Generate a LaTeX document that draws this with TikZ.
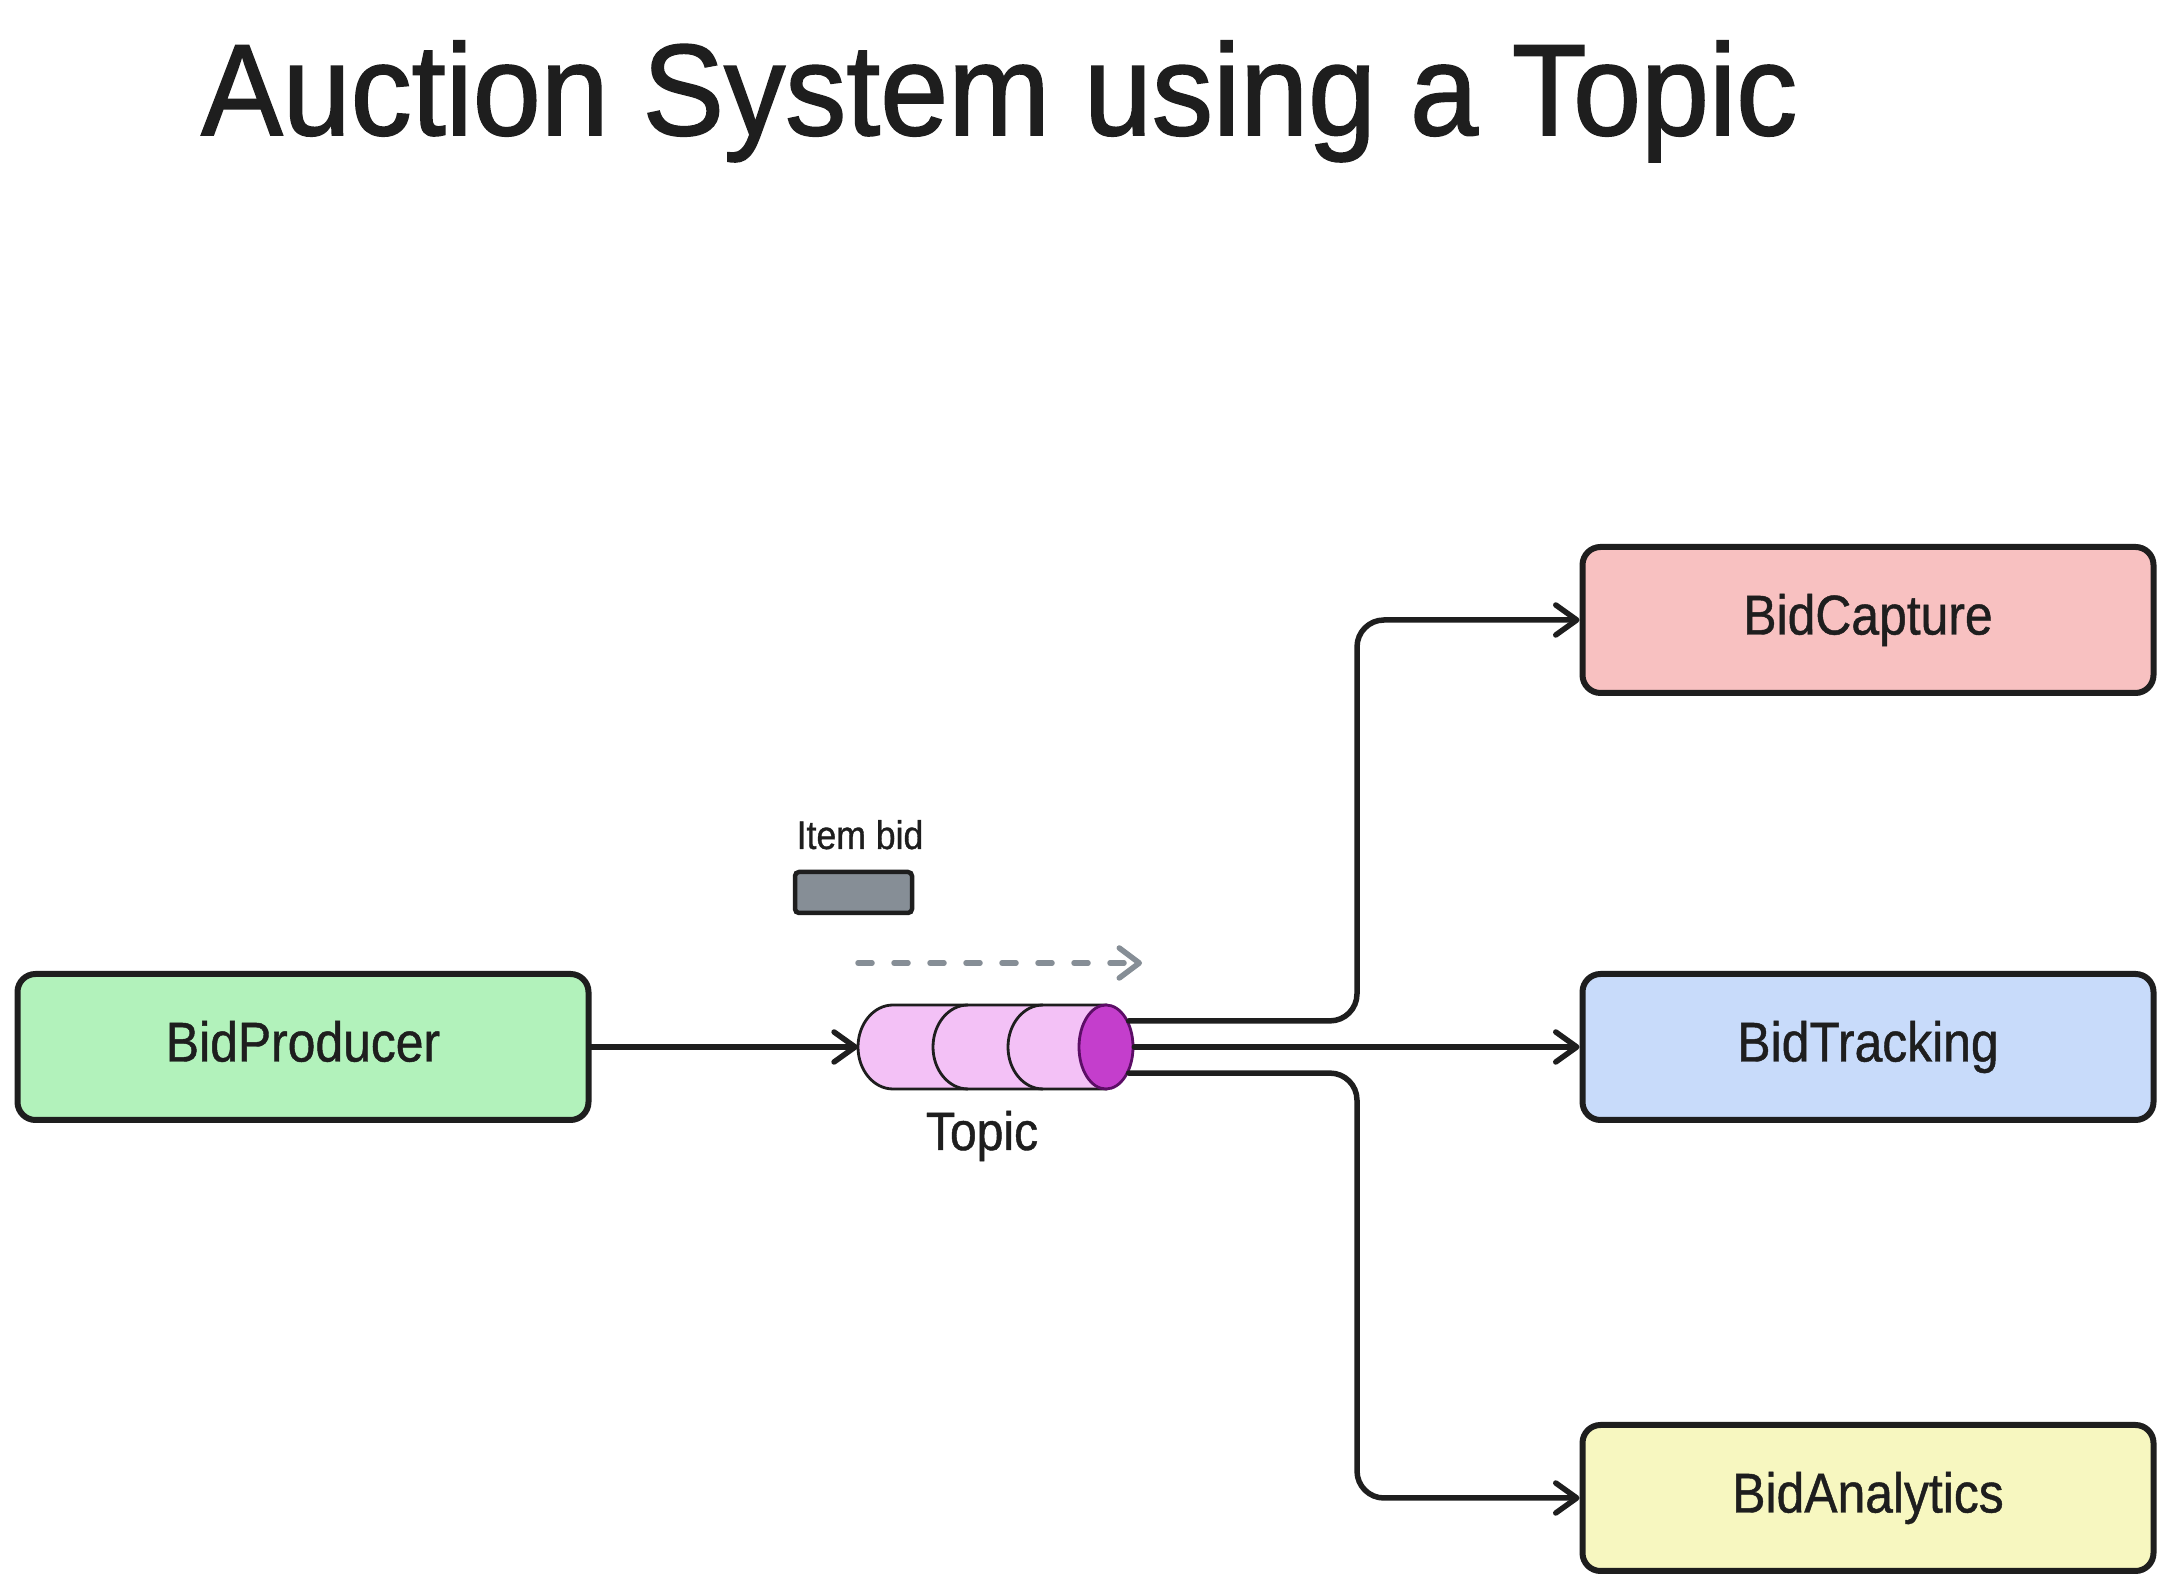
\documentclass[tikz,border=0pt]{standalone}
\usepackage{fontspec}
\setmainfont{Liberation Sans}
\newfontfamily\handfont[FakeStretch=0.89,FakeBold=0.8]{Liberation Sans}
\newfontfamily\titlefont[FakeStretch=0.94,FakeBold=1.3]{Liberation Sans}
\usetikzlibrary{arrows.meta,shapes.geometric,calc}
\definecolor{ink}{HTML}{1E1E1E}
\definecolor{prodfill}{HTML}{B2F2BB}
\definecolor{capfill}{HTML}{F8C1C1}
\definecolor{trackfill}{HTML}{C8DBFA}
\definecolor{anafill}{HTML}{F7F7C0}
\definecolor{cylfill}{HTML}{F3C1F6}
\definecolor{purp}{HTML}{C43ECC}
\definecolor{purpdark}{HTML}{5C0E66}
\definecolor{greyc}{HTML}{868E96}
\begin{document}
\begin{tikzpicture}[x=1pt,y=1pt,
  svcbox/.style={draw=ink, line width=6pt, rounded corners=18pt, minimum width=571pt, minimum height=146pt, inner sep=0pt, text height=40pt, text depth=11pt, font=\handfont\fontsize{56}{60}\selectfont, text=ink},
  conn/.style={draw=ink, line width=5.5pt, line cap=round, line join=round, rounded corners=27pt, -{Straight Barb[length=21pt,width=30pt,round]}},
  lbl/.style={text=ink, inner sep=0pt},
  cylline/.style={draw=ink, line width=2.8pt}
]
\useasboundingbox (0,0) rectangle (2171,1587);
\fill[white] (0,0) rectangle (2171,1587);

% title
\node[lbl, anchor=base west, font=\titlefont\fontsize{130}{150}\selectfont] (title) at (201,1452) {Auction System using a Topic};

% service boxes
\node[svcbox, fill=prodfill] (prod) at (303,540) {BidProducer};
\node[svcbox, fill=capfill] (cap) at (1868,967) {BidCapture};
\node[svcbox, fill=trackfill] (track) at (1868,540) {BidTracking};
\node[svcbox, fill=anafill] (ana) at (1868,89) {BidAnalytics};

% topic cylinder
\node[minimum width=275pt, minimum height=84pt, inner sep=0pt] (topic) at (995.5,540) {};
\path[fill=cylfill, cylline] (893,582) -- (1106,582) -- (1106,498) -- (893,498)
  arc[start angle=270, end angle=90, x radius=35, y radius=42] -- cycle;
\draw[cylline] (968,582) arc[start angle=90, end angle=270, x radius=35, y radius=42];
\draw[cylline] (1043,582) arc[start angle=90, end angle=270, x radius=35, y radius=42];
\node[ellipse, draw=purpdark, fill=purp, line width=2.8pt, minimum width=54pt, minimum height=84pt, inner sep=0pt] (topicend) at (1106,540) {};
\node[lbl, anchor=base, font=\handfont\fontsize{54}{60}\selectfont] (topiclabel) at (982,437) {Topic};

% item bid message
\node[lbl, anchor=base, font=\handfont\fontsize{40}{46}\selectfont] (itemlabel) at (860,738) {Item bid};
\node[draw=ink, fill=greyc, line width=4.5pt, rounded corners=4pt, minimum width=117pt, minimum height=41pt, inner sep=0pt] (item) at (853.5,694.5) {};

% dashed flow arrow
\coordinate (d1) at (858,624);
\coordinate (d2) at (1142,624);
\draw[draw=greyc, line width=5.5pt, line cap=round, dash pattern=on 14pt off 22pt, -{Straight Barb[length=20pt,width=30pt,round]}] (d1) -- (d2);

% connectors
\coordinate (busx) at (1357,540);
\draw[conn] (prod.east) -- (topic.west);
\draw[conn] (topicend.49) -| (busx |- cap.west) -- (cap.west);
\draw[conn] (topicend.east) -- (track.west);
\draw[conn] (topicend.-49) -| (busx |- ana.west) -- (ana.west);
\end{tikzpicture}
\end{document}
